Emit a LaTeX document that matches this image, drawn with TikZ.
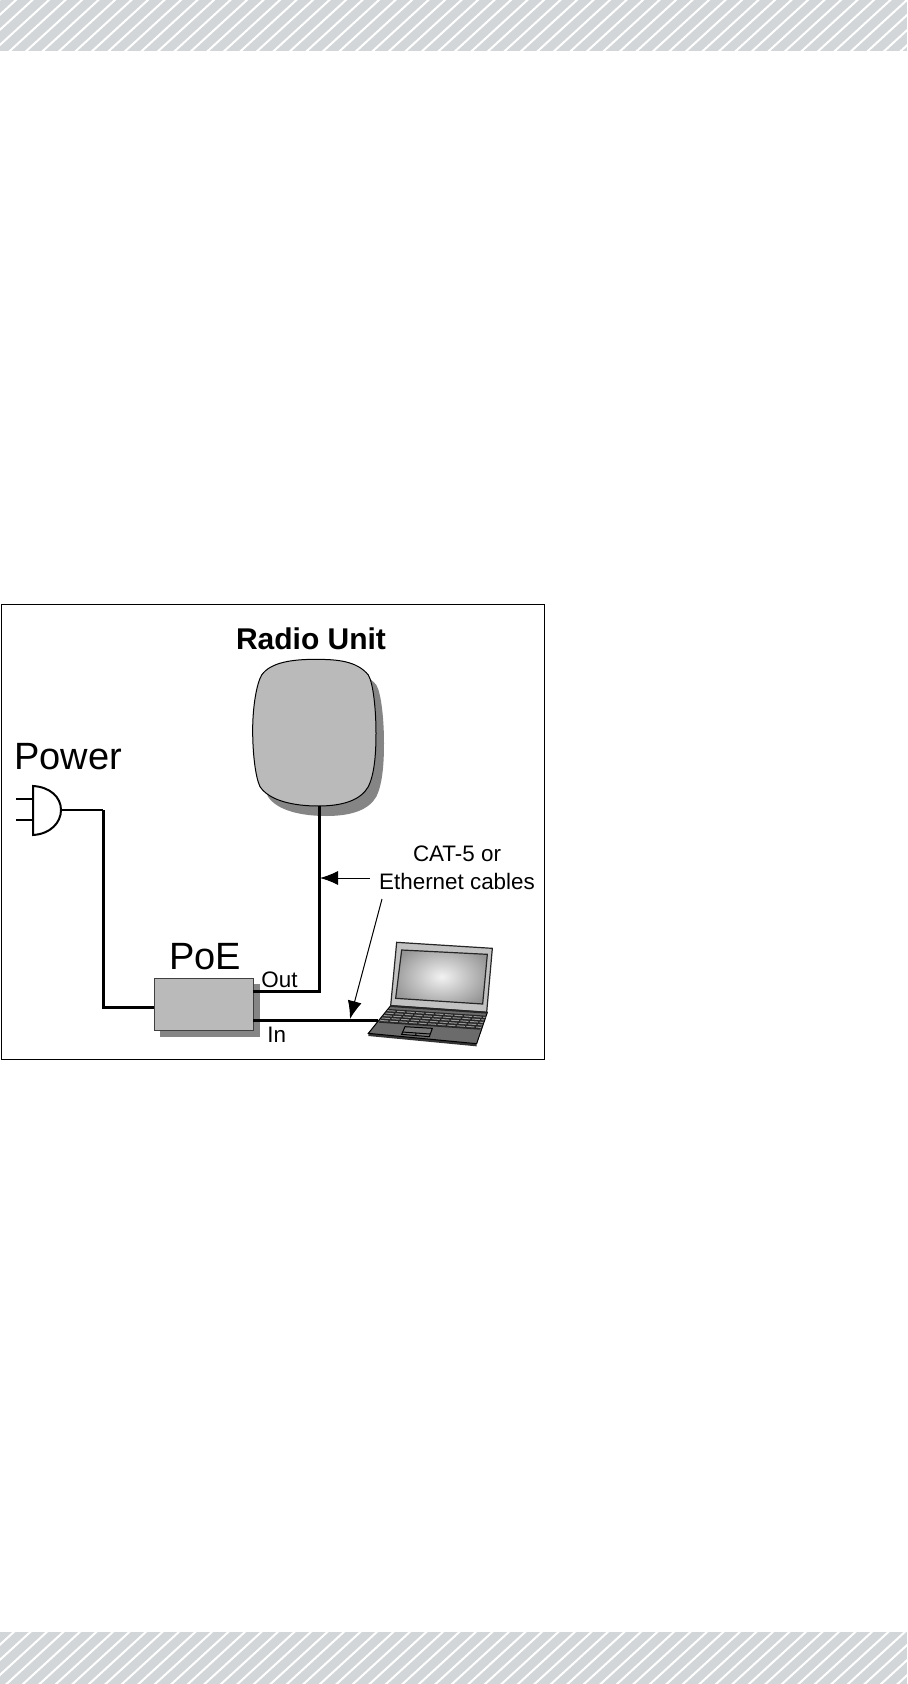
\documentclass[tikz,border=0pt]{standalone}
\usepackage{fontspec}
\setmainfont{Liberation Sans}
\usetikzlibrary{arrows.meta,calc}
\definecolor{bandgray}{HTML}{D3D6D8}
\definecolor{bodygray}{HTML}{BABABA}
\definecolor{shadowgray}{HTML}{858585}
\tikzset{
  label/.style={inner sep=0pt,anchor=base,font=\fontsize{11.2}{13}\selectfont,text=black},
  biglabel/.style={inner sep=0pt,anchor=base west,font=\fontsize{19}{21}\selectfont,text=black},
  wire/.style={line width=1.5pt,black},
  thinwire/.style={line width=1.1pt,black},
  callout/.style={line width=0.5pt,black,-{Latex[length=9pt,width=7pt]}},
  stripe/.style={line width=1pt,white},
  band/.style={fill=bandgray,draw=none},
}
\newcommand{\radioshape}{
  (225,58) .. controls (290,58) and (350,62) .. (385,105)
  .. controls (400,130) and (408,210) .. (408,280)
  .. controls (408,350) and (402,405) .. (385,440)
  .. controls (362,480) and (310,498) .. (235,498)
  .. controls (160,498) and (88,482) .. (60,440)
  .. controls (46,410) and (38,340) .. (38,270)
  .. controls (38,200) and (50,130) .. (65,105)
  .. controls (92,66) and (160,58) .. (225,58) -- cycle}
\begin{document}
\begin{tikzpicture}[x=0.5pt,y=-0.5pt]
\useasboundingbox[fill=white] (0,0) rectangle (907,1684);
% header and footer bands
\fill[band] (0,0) rectangle (907,51);
\fill[band] (0,1632) rectangle (907,1684);
\begin{scope}
  \clip (0,0) rectangle (907,51);
  \foreach \i in {-6,...,58}{\draw[stripe] ({\i*16.5},60) -- ({\i*16.5+72},-6);}
\end{scope}
\begin{scope}
  \clip (0,1632) rectangle (907,1684);
  \foreach \i in {-6,...,58}{\draw[stripe] ({\i*16.5},1690) -- ({\i*16.5+72},1624);}
\end{scope}
% frame
\draw[line width=0.5pt,black] (1,604) rectangle (544,1059);
% radio unit
\begin{scope}[shift={(248,650)},scale=1/3]
  \fill[shadowgray] \radioshape;
\end{scope}
\begin{scope}[shift={(240,640)},scale=1/3]
  \fill[bodygray] \radioshape;
  \draw[line width=0.5pt,black] \radioshape;
\end{scope}
\coordinate (radio) at (319,806);
\node[label,font=\fontsize{15}{17}\bfseries\selectfont] (radiolabel) at (311,649) {Radio Unit};
% power plug
\node[biglabel] (powerlabel) at (14,769) {Power};
\coordinate (plug) at (61,810);
\draw[line width=1pt,black] (33,786) .. controls (50,787) and (61,797) .. (plug) .. controls (61,823) and (50,834) .. (33,835) -- cycle;
\coordinate (plugtop) at (33,799);
\coordinate (plugbot) at (33,820);
\coordinate (prongtop) at (16,799);
\coordinate (prongbot) at (16,820);
\draw[line width=1pt] (prongtop) -- (plugtop);
\draw[line width=1.4pt] (prongbot) -- (plugbot);
% PoE box
\fill[shadowgray] (160,984) rectangle (260,1037);
\node[draw=black!75,line width=0.6pt,fill=bodygray,minimum width=49.5pt,minimum height=26pt,inner sep=0pt,anchor=north west] (poe) at (154,978) {};
\node[biglabel] (poelabel) at (169,969) {PoE};
\node[label,anchor=base west] (outlabel) at (261,987) {Out};
\node[label,anchor=base west] (inlabel) at (267,1042) {In};
\coordinate (poeout) at (253,991);
\coordinate (poein) at (253,1020);
\coordinate (bendout) at (319,991);
\coordinate (bendpower) at (103,810);
\coordinate (bendpoe) at (103,1007);
\coordinate (poeleft) at (154,1007);
\coordinate (laptop) at (378,1020);
% wires
\draw[thinwire] (plug) -- (bendpower);
\draw[wire,line cap=butt] (bendpower) -- (bendpoe) -- (poeleft);
\draw[wire] (poeout) -- (bendout) -- (radio);
\draw[wire] (poein) -- (laptop);
% callouts
\node[label] (catlabel) at (457,861) {CAT-5 or};
\node[label] (ethlabel) at (457,889) {Ethernet cables};
\coordinate (tipa) at (320,878);
\coordinate (taila) at (370,878);
\coordinate (tipb) at (350,1019);
\coordinate (tailb) at (382,899);
\draw[callout] (taila) -- (tipa);
\draw[callout] (tailb) -- (tipb);
% laptop
\begin{scope}[shift={(360,935)},scale=1/3]
  % base side
  \fill[black!80] (25,293) -- (350,324) -- (350,334) -- (25,303) -- cycle;
  % deck
  \fill[black!58] (92,212) -- (382,232) -- (350,326) -- (25,295) -- cycle;
  \draw[line width=0.5pt,black] (92,212) -- (382,232) -- (350,326) -- (25,295) -- cycle;
  % lid
  \fill[black!24] (110,22) -- (397,40) -- (380,232) -- (92,212) -- cycle;
  \draw[line width=0.6pt,black!85] (110,22) -- (397,40) -- (380,232) -- (92,212) -- cycle;
  % screen
  \begin{scope}
    \clip (125,45) -- (382,58) -- (368,207) -- (107,190) -- cycle;
    \shade[inner color=white!95!black,outer color=black!42] (90,20) rectangle (400,230);
  \end{scope}
  \draw[line width=0.6pt,black!85] (125,45) -- (382,58) -- (368,207) -- (107,190) -- cycle;
  % hinge
  \draw[line width=1pt,black!85] (92,213) -- (382,233);
  % keyboard
  \fill[black!85] (86,222) -- (378,242) -- (360,284) -- (56,263) -- cycle;
  \foreach \t in {0.12,0.3,0.48,0.66,0.84}{
    \draw[black!40,line width=0.5pt,dash pattern=on 4pt off 0.8pt]
      ($(86,222)!\t!(56,263)$) -- ($(378,242)!\t!(360,284)$);
  }
  % touchpad
  \fill[black!52] (135,275) -- (217,280) -- (208,305) -- (125,298) -- cycle;
  \draw[line width=0.5pt,black] (135,275) -- (217,280) -- (208,305) -- (125,298) -- cycle;
  \draw[line width=0.5pt,black] (127,291) -- (210,297);
  \draw[line width=0.5pt,black] (168,294) -- (167,301);
\end{scope}
\end{tikzpicture}
\end{document}
